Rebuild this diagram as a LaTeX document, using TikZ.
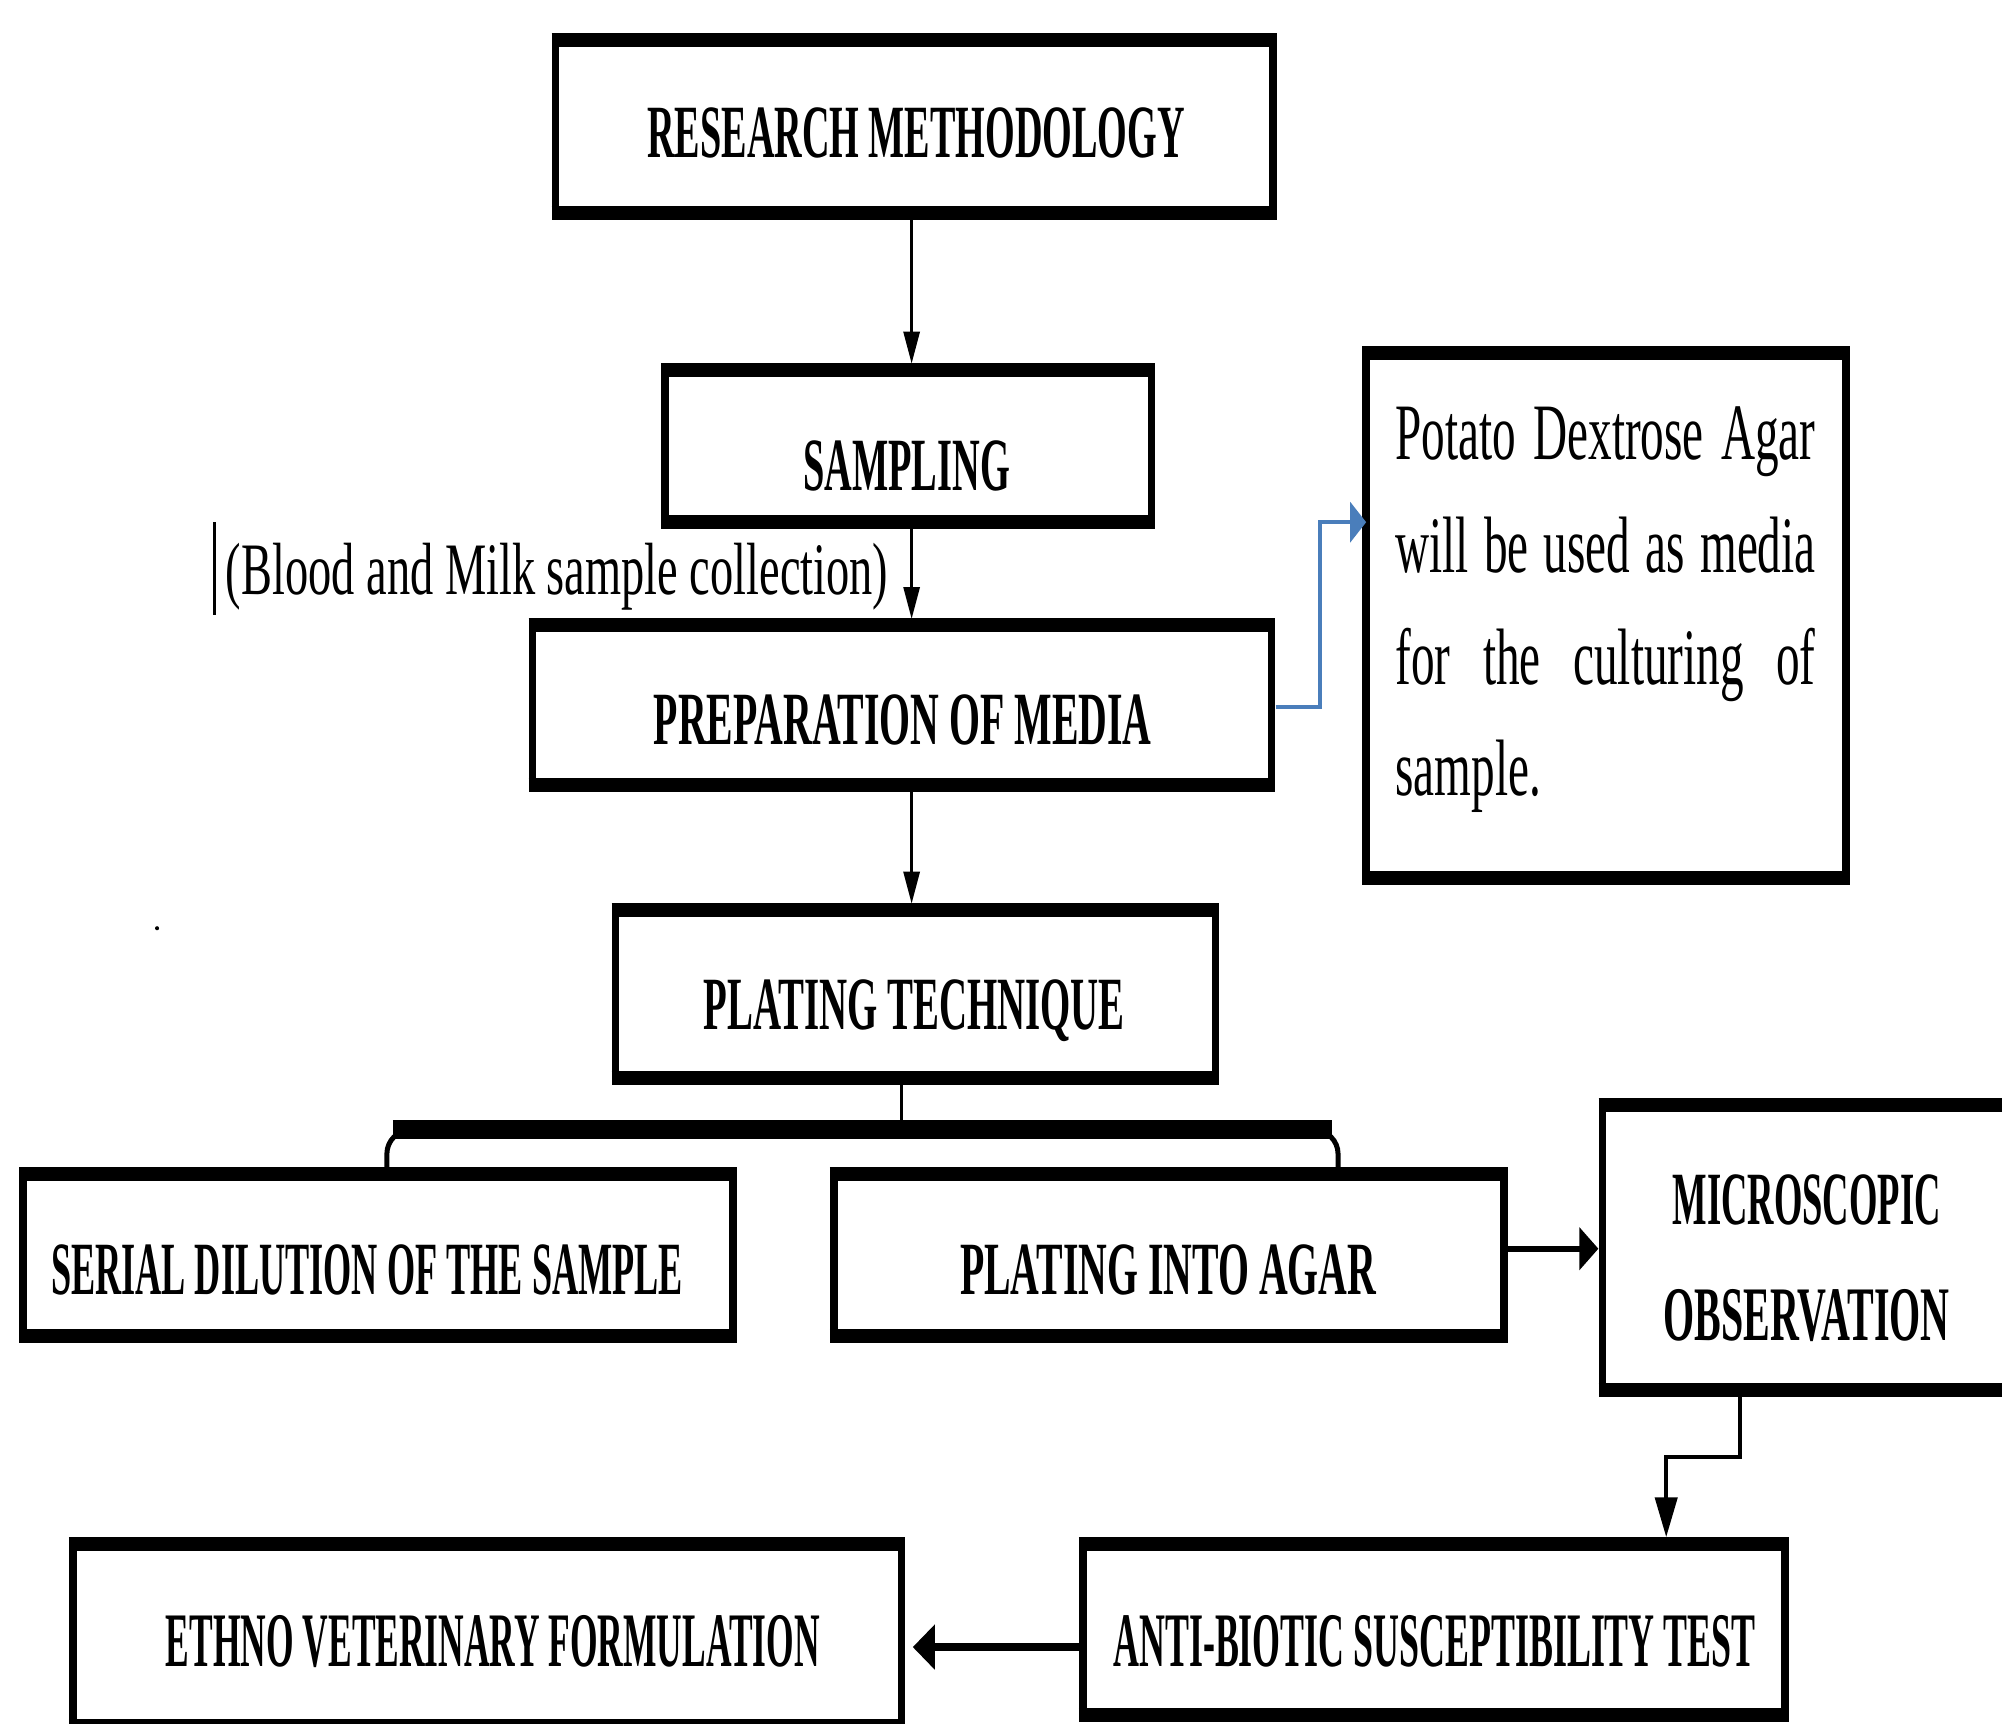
\documentclass[tikz,border=0pt]{standalone}
\usepackage{graphicx}
\usepackage{fontspec}
\setmainfont{Liberation Serif}
\usetikzlibrary{arrows.meta,fit}
\definecolor{linkblue}{RGB}{74,126,187}
\newlength\un
\setlength\un{0.6384pt}
\newcommand\hd[3]{\resizebox{#1\un}{#2\un}{\bfseries #3}}
\newcommand\potline[1]{\scalebox{0.59}[1]{\makebox[356pt][s]{\fontsize{40pt}{48pt}\selectfont #1}}}
\newcommand\bx[5]{\node[boxnode, fit={({#2+3},{#3+5.5}) ({#4-3},{#5-5.5})}] (#1) {};}
\begin{document}
\begin{tikzpicture}[x=0.6384pt, y=-0.6384pt,
  boxnode/.style={draw, line width=3.8pt, inner sep=0pt, outer sep=0pt},
  tb/.style={line width=7pt},
  lbl/.style={anchor=base west, inner sep=0pt, outer sep=0pt},
  varr/.style={line width=1.5pt, -{Triangle[length=16pt,width=8pt]}, shorten >=3pt},
  darr/.style={line width=2.2pt, -{Triangle[length=20pt,width=11pt]}, shorten >=3.5pt},
  harrA/.style={line width=2.8pt, -{Triangle[length=9.5pt,width=21pt]}, shorten >=2pt},
  harrB/.style={line width=4pt, -{Triangle[length=11pt,width=22pt]}, shorten >=5.7pt},
  barr/.style={linkblue, line width=2pt, -{Triangle[length=8pt,width=20pt]}, shorten <=2pt}]
\useasboundingbox (0,0) rectangle (1568,1350);
\fill[white] (0,0) rectangle (1568,1350);

% boxes
\bx{rm}{432}{26}{1000}{172}
\bx{samp}{518}{284}{905}{414}
\bx{prep}{414}{484}{999}{620}
\bx{pot}{1067}{271}{1449}{693}
\bx{plat}{479}{707}{955}{850}
\bx{ser}{15}{914}{577}{1052}
\bx{agar}{650}{914}{1181}{1052}
\bx{micro}{1252}{860}{1610}{1094}
\bx{anti}{845}{1204}{1401}{1349}
\bx{ethno}{54}{1204}{709}{1357}
\foreach \n in {rm,samp,prep,pot,plat,ser,agar,micro,anti,ethno}{
  \draw[tb] ([xshift=-1.9pt]\n.north west) -- ([xshift=1.9pt]\n.north east);
  \draw[tb] ([xshift=-1.9pt]\n.south west) -- ([xshift=1.9pt]\n.south east);
}

% heading texts
\node[lbl] (rmt) at (507,123) {\hd{421}{39}{RESEARCH METHODOLOGY}};
\node[lbl] (sampt) at (629,384) {\hd{162}{39}{SAMPLING}};
\node[lbl] (prept) at (512,583) {\hd{390}{39}{PREPARATION OF MEDIA}};
\node[lbl] (platt) at (551,806) {\hd{330}{39}{PLATING TECHNIQUE}};
\node[lbl] (sert) at (40,1014) {\hd{495}{39}{SERIAL DILUTION OF THE SAMPLE}};
\node[lbl] (agart) at (752,1014) {\hd{326}{39}{PLATING INTO AGAR}};
\node[lbl] (microt) at (1310,959) {\hd{210}{39}{MICROSCOPIC}};
\node[lbl] (obst) at (1303,1050) {\hd{224}{40}{OBSERVATION}};
\node[lbl] (ethnot) at (130,1305) {\hd{512}{40}{ETHNO VETERINARY FORMULATION}};
\node[lbl] (antit) at (872,1305) {\hd{503}{40}{ANTI-BIOTIC SUSCEPTIBILITY TEST}};

% potato text
\node[lbl] (pot1) at (1093,360) {\potline{Potato Dextrose Agar}};
\node[lbl] (pot2) at (1093,448) {\potline{will be used as media}};
\node[lbl] (pot3) at (1093,536) {\potline{for the culturing of}};
\node[lbl] (pot4) at (1093,623) {\scalebox{0.59}[1]{\fontsize{40pt}{48pt}\selectfont sample.}};

% sample label
\node[lbl] (blood) at (177,466) {\scalebox{0.627}[1]{\fontsize{37pt}{44pt}\selectfont (Blood and Milk sample collection)}};
\draw[line width=1.2pt] (168,409) -- (168,482);
\fill (123,727) circle (1.6);

% connectors
\coordinate (ax) at (714,0);
\draw[varr] (rm.south -| ax) -- (samp.north -| ax);
\draw[varr] (samp.south -| ax) -- (prep.north -| ax);
\draw[varr] (prep.south -| ax) -- (plat.north -| ax);

\coordinate (b1) at (1034,554);
\coordinate (b2) at (1034,409);
\draw[barr] (prep.east |- b1) -- (b1) -- (b2) -- (pot.west |- b2);

\coordinate (brC) at (706,885);
\coordinate (brL) at (303,885);
\coordinate (brR) at (1048,885);
\draw[line width=1.8pt] (plat.south -| brC) -- (brC);
\draw[line width=2.5pt, rounded corners=12] (ser.north -| brL) -- (brL) -- (brR) -- (agar.north -| brR);
\draw[line width=9.5pt] ([xshift=3pt]brL) -- ([xshift=-3pt]brR);

\coordinate (h1) at (0,978);
\draw[harrA] (agar.east |- h1) -- (micro.west |- h1);

\coordinate (m1) at (1363,1141);
\coordinate (m2) at (1305,1141);
\draw[darr] (micro.south -| m1) -- (m1) -- (m2) -- (anti.north -| m2);

\coordinate (e1) at (0,1290);
\draw[harrB] (anti.west |- e1) -- (ethno.east |- e1);
\end{tikzpicture}
\end{document}
